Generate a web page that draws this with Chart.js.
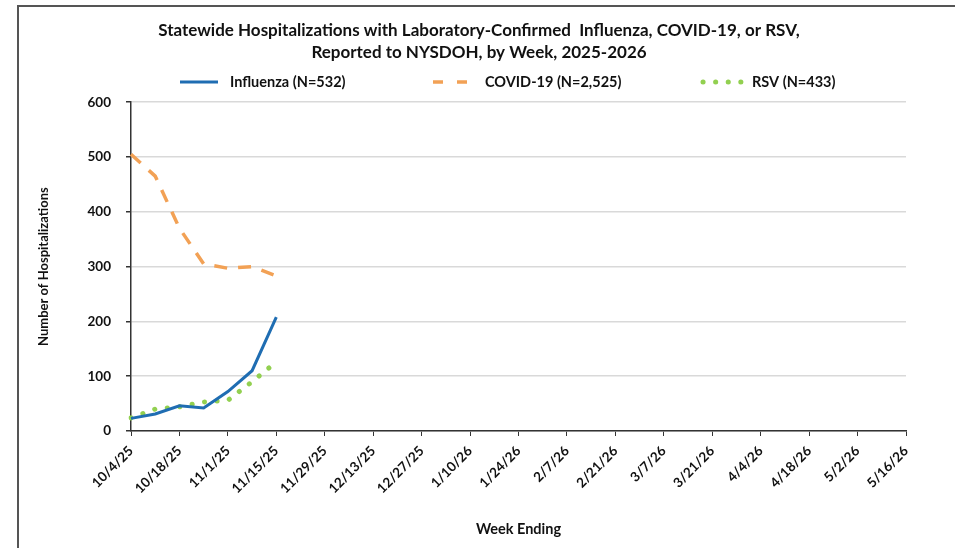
<!DOCTYPE html>
<html>
<head>
<meta charset="utf-8">
<script src="https://cdn.jsdelivr.net/npm/chart.js@4.4.1/dist/chart.umd.min.js"></script>
<style>
  html, body { margin: 0; padding: 0; background: #fff; }
  #wrap { position: relative; width: 955px; height: 548px; overflow: hidden; }
  #frame { position: absolute; left: 17px; top: 5px; width: 960px; height: 560px;
           border-top: 2px solid #555; border-left: 2px solid #555; }
  #chart { position: absolute; left: 0; top: 0; }
</style>
</head>
<body>
<div id="wrap">
  <div id="frame"></div>
  <canvas id="chart" width="955" height="548"></canvas>
</div>
<script>
// week-ending dates, 2025-2026 season
const weeks = [
    '10/4/25', '10/11/25', '10/18/25', '10/25/25', '11/1/25', '11/8/25', '11/15/25',
    '11/22/25', '11/29/25', '12/6/25', '12/13/25', '12/20/25', '12/27/25', '1/3/26',
    '1/10/26', '1/17/26', '1/24/26', '1/31/26', '2/7/26', '2/14/26', '2/21/26',
    '2/28/26', '3/7/26', '3/14/26', '3/21/26', '3/28/26', '4/4/26', '4/11/26',
    '4/18/26', '4/25/26', '5/2/26', '5/9/26', '5/16/26'
];

// hospitalizations per week (only first weeks reported so far)
const influenza = [23, 31, 46, 42, 72, 110, 208];
const covid = [505, 465, 370, 305, 297, 300, 283];
const rsv = [24, 40, 44, 53, 56, 90, 126];

const legendLabels = ['Influenza (N=532)', 'COVID-19 (N=2,525)', 'RSV (N=433)'];

const FONT = 'Lato, "Open Sans", sans-serif';
const INK = '#111';

// Legend drawn by hand so the items sit spread out like the original
var spreadLegend = {
    id: 'spreadLegend',
    afterLayout: function(chart) {
        // title in the original sits a bit right of the chart box centre
        chart.titleBlock.left += 52;
    },
    afterDraw: function(chart) {
        const ctx = chart.ctx;
        const y = 82;
        const items = [
            { x: 180, tx: 230 },
            { x: 433, tx: 485 },
            { x: 703, tx: 752 }
        ];
        ctx.save();
        chart.data.datasets.forEach(function(ds, i) {
            const it = items[i];
            ctx.strokeStyle = ds.borderColor;
            ctx.lineWidth = ds.borderWidth;
            ctx.lineCap = ds.borderCapStyle || 'butt';
            ctx.setLineDash(ds.legendDash || []);
            ctx.beginPath();
            ctx.moveTo(it.x, y);
            ctx.lineTo(it.x + 38, y);
            ctx.stroke();
            ctx.setLineDash([]);
            ctx.fillStyle = INK;
            ctx.font = 'bold 14.5px ' + FONT;
            ctx.textBaseline = 'middle';
            ctx.textAlign = 'left';
            ctx.fillText(ds.label, it.tx, y);
        });
        ctx.restore();
    }
};

const ctx = document.getElementById('chart').getContext('2d');
const hospChart = new Chart(ctx, {
    type: 'line',
    data: {
        labels: weeks,
        datasets: [{
            label: legendLabels[0],
            data: influenza,
            borderColor: '#1f6db2',
            borderWidth: 3,
            pointRadius: 0,
            tension: 0
        }, {
            label: legendLabels[1],
            data: covid,
            borderColor: '#f2a155',
            borderWidth: 3.5,
            borderDash: [13, 11],
            legendDash: [10, 14],
            pointRadius: 0,
            tension: 0
        }, {
            label: legendLabels[2],
            data: rsv,
            borderColor: '#92d050',
            borderWidth: 5,
            borderCapStyle: 'round',
            borderDash: [0.1, 12.5],
            legendDash: [0.1, 12.5],
            pointRadius: 0,
            tension: 0
        }]
    },
    options: {
        responsive: false,
        animation: false,
        layout: { padding: { top: 6, right: 49, bottom: 0, left: 0 } },
        plugins: {
            legend: { display: false },
            tooltip: { enabled: false },
            title: {
                display: true,
                text: ['Statewide Hospitalizations with Laboratory-Confirmed  Influenza, COVID-19, or RSV,',
                       'Reported to NYSDOH, by Week, 2025-2026'],
                color: INK,
                font: { family: FONT, size: 17, weight: 'bold', lineHeight: 1.3 },
                padding: { top: 13, bottom: 39 }
            }
        },
        scales: {
            x: {
                afterFit: function(scale) { scale.height = 117; },
                grid: {
                    drawOnChartArea: false,
                    tickLength: 5,
                    tickColor: function(c) { return c.index % 2 === 0 ? '#333' : 'rgba(0,0,0,0)'; }
                },
                border: { color: '#333', width: 1.5 },
                ticks: {
                    autoSkip: false,
                    maxRotation: 45,
                    minRotation: 45,
                    padding: 7,
                    color: INK,
                    font: { family: FONT, size: 13.5, weight: 'bold' },
                    callback: function(val, i) { return i % 2 === 0 ? this.getLabelForValue(val) : ''; }
                },
                title: {
                    display: true,
                    text: 'Week Ending',
                    color: INK,
                    font: { family: FONT, size: 14.5, weight: 'bold' },
                    padding: { top: 0, bottom: 10 }
                }
            },
            y: {
                min: 0,
                max: 600,
                afterFit: function(scale) { scale.width = 131; },
                grid: {
                    color: '#d9d9d9',
                    lineWidth: 1.5,
                    tickLength: 5,
                    tickColor: '#333'
                },
                border: { color: '#333', width: 1.5 },
                ticks: {
                    stepSize: 100,
                    padding: 15,
                    color: INK,
                    font: { family: FONT, size: 13.5, weight: 'bold' }
                },
                title: {
                    display: true,
                    text: 'Number of Hospitalizations',
                    color: INK,
                    font: { family: FONT, size: 13, weight: 'bold' },
                    padding: { top: 36, bottom: 0 }
                }
            }
        }
    },
    plugins: [spreadLegend]
});
</script>
</body>
</html>
